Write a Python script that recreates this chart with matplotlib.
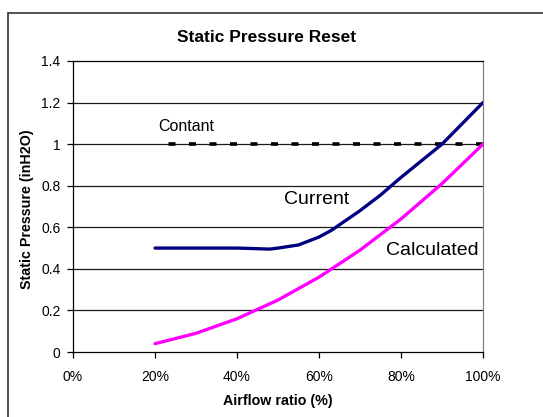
import matplotlib
matplotlib.use("Agg")
import matplotlib.pyplot as plt
from matplotlib.patches import Rectangle

plt.rcParams['font.family'] = ['Liberation Sans', 'DejaVu Sans']
plt.rcParams['lines.scale_dashes'] = False

airflow = [0.2, 0.3, 0.4, 0.45, 0.48, 0.5, 0.55, 0.6, 0.63, 0.7, 0.75, 0.8, 0.9, 1.0]
current = [0.5, 0.5, 0.5, 0.497, 0.495, 0.5, 0.515, 0.553, 0.585, 0.68, 0.755, 0.84, 1.0, 1.2]
calc_x = [0.2, 0.3, 0.4, 0.5, 0.6, 0.7, 0.8, 0.9, 1.0]
calculated = [0.04, 0.09, 0.16, 0.25, 0.36, 0.49, 0.64, 0.81, 1.0]
const_x = [0.2, 1.0]
constant = [1.0, 1.0]
xticks = [0, 0.2, 0.4, 0.6, 0.8, 1.0]
xticklabels = ['0%', '20%', '40%', '60%', '80%', '100%']
yticks = [0, 0.2, 0.4, 0.6, 0.8, 1.0, 1.2, 1.4]
yticklabels = ['0', '0.2', '0.4', '0.6', '0.8', '1', '1.2', '1.4']

W, H = 543, 417
fig = plt.figure(figsize=(W/100, H/100), dpi=100)
fig.patch.set_facecolor('white')

# outer chart-area border
fig.add_artist(Rectangle((8/W, -0.1), 1.2, (H-13)/H + 0.1, transform=fig.transFigure,
                         fill=False, edgecolor='#333333', linewidth=1.2))

ax = fig.add_axes([73/W, (H-352)/H, 410/W, 291/H])
ax.set_xlim(0, 1.0)
ax.set_ylim(0, 1.4)

for y in yticks[1:-1]:
    ax.axhline(y, color='#1a1a1a', linewidth=0.9, zorder=1)

px = 0.72
ax.plot(const_x, constant, color='black', linewidth=3.6*px,
        dash_capstyle='butt', zorder=3,
        linestyle=(7.01*px, (7*px, 13.5*px)))
ax.plot(airflow, current, color='#000080', linewidth=3.3*px, zorder=4, solid_capstyle='round')
ax.plot(calc_x, calculated, color='#FF00FF', linewidth=3.3*px, zorder=4, solid_capstyle='round')

ax.set_xticks(xticks)
ax.set_xticklabels(xticklabels, fontsize=10)
ax.set_yticks(yticks)
ax.set_yticklabels(yticklabels, fontsize=10)
ax.tick_params(axis='both', direction='out', length=4, width=0.9, colors='black')
ax.tick_params(axis='x', pad=9)
ax.tick_params(axis='y', pad=5)

for s in ['left', 'bottom', 'top']:
    ax.spines[s].set_color('black')
    ax.spines[s].set_linewidth(0.9)
ax.spines['right'].set_color('#808080')
ax.spines['right'].set_linewidth(0.9)

ax.text(0.207, 1.085, 'Contant', fontsize=11.5, ha='left', va='center')
ax.text(0.515, 0.735, 'Current', fontsize=14, ha='left', va='center')
ax.text(0.763, 0.487, 'Calculated', fontsize=14, ha='left', va='center')

fig.text(267/W, 1 - 37/H, 'Static Pressure Reset', fontsize=12.5, fontweight='bold',
         ha='center', va='center')
fig.text(278/W, 1 - 401/H, 'Airflow ratio (%)', fontsize=10.3, fontweight='bold',
         ha='center', va='center')
fig.text(27/W, 1 - 209/H, 'Static Pressure (inH2O)', fontsize=10.3, fontweight='bold',
         ha='center', va='center', rotation=90)

fig.savefig('out.png', dpi=100)
